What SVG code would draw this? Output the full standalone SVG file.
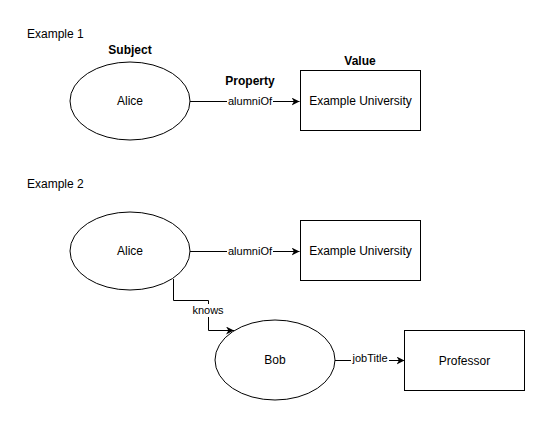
<svg xmlns="http://www.w3.org/2000/svg" width="545" height="421" viewBox="0 0 545 421">
<style>
text{font-family:"Liberation Sans",Arial,sans-serif;fill:#000}
.n{font-size:12px;text-anchor:middle}
.b{font-size:12px;font-weight:bold;text-anchor:middle}
.t{font-size:12px}
.l{font-size:11px;text-anchor:middle}
.s{fill:#fff;stroke:#000;stroke-width:1}
.e{fill:none;stroke:#000;stroke-width:1}
</style>
<defs>
<marker id="a" viewBox="0 0 10 10" refX="10" refY="5" markerWidth="8" markerHeight="8" markerUnits="userSpaceOnUse" orient="auto">
<path d="M0,0 L10,5 L0,10 L3,5 Z" fill="#000"/>
</marker>
</defs>
<rect width="545" height="421" fill="#fff"/>
<text class="t" x="27" y="38">Example 1</text>
<text class="t" x="27" y="188">Example 2</text>
<text class="b" x="130" y="54">Subject</text>
<text class="b" x="250" y="85">Property</text>
<text class="b" x="360" y="65">Value</text>
<g id="connectors">
<path class="e" d="M190,101.5 H227"/>
<path class="e" d="M273,101.5 H299.5" marker-end="url(#a)"/>
<text class="l" x="250" y="105">alumniOf</text>
<path class="e" d="M190,251.5 H227"/>
<path class="e" d="M273,251.5 H299.5" marker-end="url(#a)"/>
<text class="l" x="250" y="255">alumniOf</text>
<path class="e" d="M173.5,279 V300.5 H208.5 V304"/>
<path class="e" d="M208.5,317 V330.5 H234" marker-end="url(#a)"/>
<text class="l" x="208" y="314">knows</text>
<path class="e" d="M335,360.5 H351"/>
<path class="e" d="M389,360.5 H404.5" marker-end="url(#a)"/>
<text class="l" x="370" y="362">jobTitle</text>
</g>
<g id="alice1"><ellipse class="s" cx="130" cy="101" rx="60" ry="39"/><text class="n" x="130" y="105">Alice</text></g>
<g id="univ1"><rect class="s" x="300.5" y="70.5" width="120" height="60"/><text class="n" x="360.5" y="105">Example University</text></g>
<g id="alice2"><ellipse class="s" cx="130" cy="251" rx="60" ry="39"/><text class="n" x="130" y="255">Alice</text></g>
<g id="univ2"><rect class="s" x="300.5" y="220.5" width="120" height="60"/><text class="n" x="360.5" y="255">Example University</text></g>
<g id="bob"><ellipse class="s" cx="275" cy="360" rx="60" ry="40"/><text class="n" x="275" y="364">Bob</text></g>
<g id="professor"><rect class="s" x="404.5" y="330.5" width="120" height="60"/><text class="n" x="464.5" y="365">Professor</text></g>
</svg>
